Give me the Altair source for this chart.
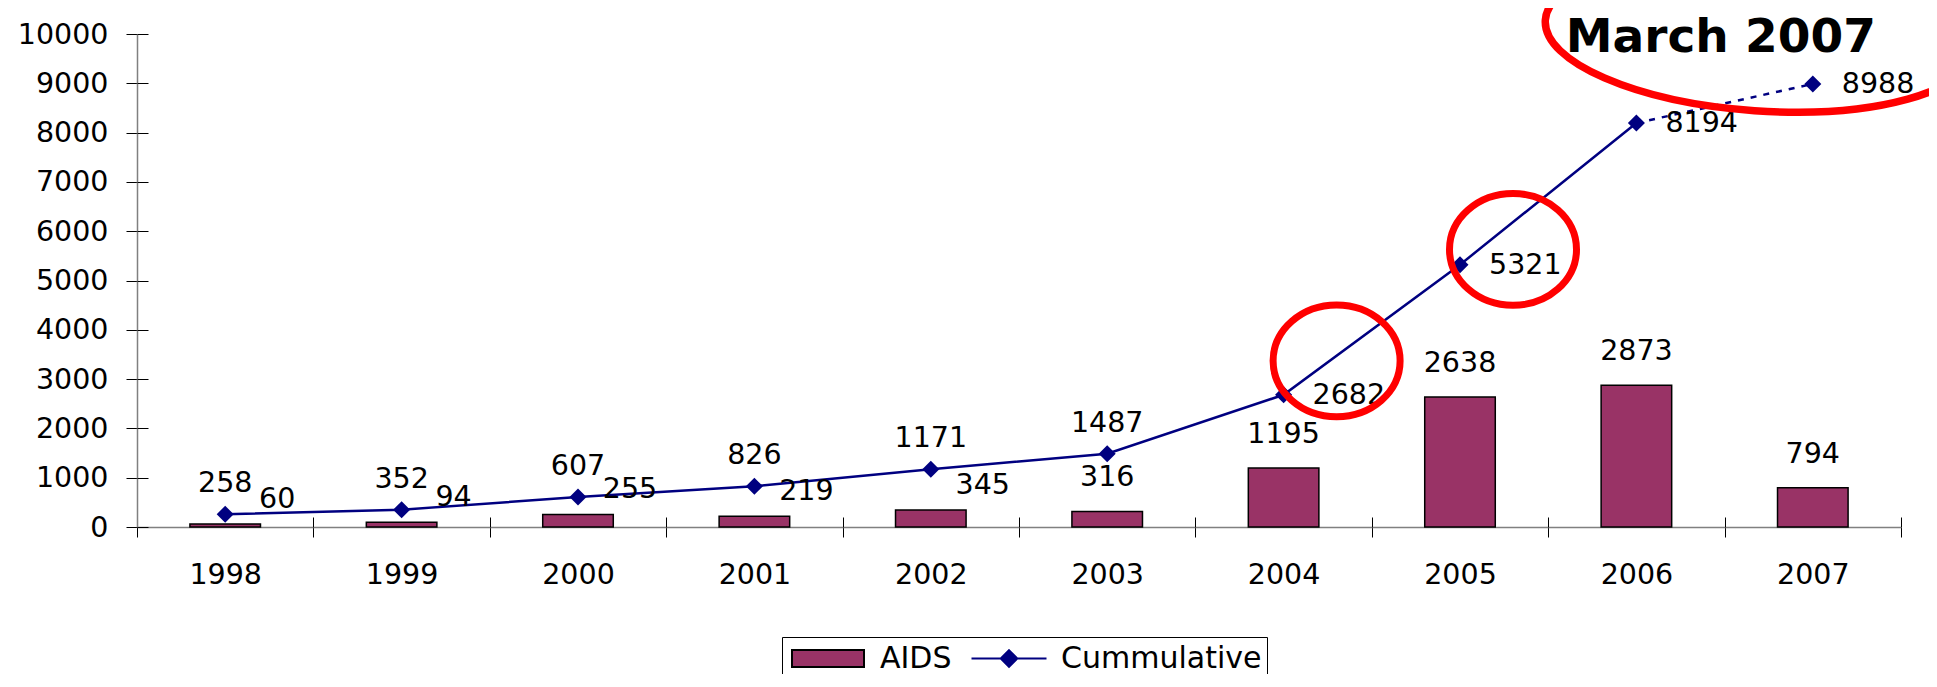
import altair as alt
import pandas as pd

# ---------------- data ----------------
years = [1998, 1999, 2000, 2001, 2002, 2003, 2004, 2005, 2006, 2007]
aids_cases = [60, 94, 255, 219, 345, 316, 1195, 2638, 2873, 794]
cumulative = [258, 352, 607, 826, 1171, 1487, 2682, 5321, 8194, 8988]
series_names = ["AIDS", "Cummulative"]
y_tick_values = [0, 1000, 2000, 3000, 4000, 5000, 6000, 7000, 8000, 9000, 10000]

# annotations (red rings and note), in data units
ring_years = [2004, 2005]
ring_values = [3370, 5630]
note_years = [2007]
note_ring_values = [9980]
note_text_values = [9630]
note_texts = ["March 2007"]

FONT = "DejaVu Sans"
BAR_COLOR = "#993366"
LINE_COLOR = "#000080"
RING_COLOR = "#FF0000"

df = pd.DataFrame({"year": years, "aids": aids_cases, "cumulative": cumulative})
rings = pd.DataFrame({"year": ring_years, "value": ring_values})
note = pd.DataFrame({"year": note_years, "ring": note_ring_values,
                     "tv": note_text_values, "text": note_texts})
legend_df = pd.DataFrame({"series": series_names})


def fmt(v):
    s = f"{v:.4f}".rstrip("0").rstrip(".")
    return "0" if s in ("-0", "") else s


def ellipse_path(rx, ry):
    k = 0.5523
    p = [
        f"M{fmt(rx)},0",
        f"C{fmt(rx)},{fmt(k*ry)} {fmt(k*rx)},{fmt(ry)} 0,{fmt(ry)}",
        f"C{fmt(-k*rx)},{fmt(ry)} {fmt(-rx)},{fmt(k*ry)} {fmt(-rx)},0",
        f"C{fmt(-rx)},{fmt(-k*ry)} {fmt(-k*rx)},{fmt(-ry)} 0,{fmt(-ry)}",
        f"C{fmt(k*rx)},{fmt(-ry)} {fmt(rx)},{fmt(-k*ry)} {fmt(rx)},0 Z",
    ]
    return " ".join(p)


# legend symbol shapes (scaled by sqrt(symbolSize)/2 = 15)
rect_symbol = "M-2.4,-0.567 H2.4 V0.567 H-2.4 Z"
line_symbol = "M-2.5,0 H-0.55 M0.55,0 H2.5 M0,-0.55 L0.55,0 L0,0.55 L-0.55,0 Z"

# ---------------- axes / encodings ----------------
x_axis = alt.Axis(
    title=None, labelAngle=0, tickBand="extent", tickSize=10, tickColor="black",
    tickWidth=1, labelFont=FONT, labelFontSize=28.5, labelColor="black",
    labelPadding=23, domainColor="#808080", domainWidth=1.5,
)
# inner half of the crossing ticks
x_axis_inner = alt.Axis(
    title=None, orient="bottom", offset=-10, labels=False, domain=False,
    tickBand="extent", tickSize=10, tickColor="black", tickWidth=1,
)
y_axis = alt.Axis(
    title=None, values=y_tick_values, format="d", grid=False, labelFont=FONT,
    labelFontSize=28.5, labelColor="black", labelPadding=18, tickSize=11,
    tickColor="black", tickWidth=1, domainColor="#808080", domainWidth=1.5,
)
y_axis_inner = alt.Axis(
    title=None, orient="left", offset=-11, values=y_tick_values, grid=False,
    labels=False, domain=False, tickSize=11, tickColor="black", tickWidth=1,
)

x_scale = alt.Scale(paddingInner=0, paddingOuter=0)
y_scale = alt.Scale(domain=[0, 10000], nice=False)


def x_enc(axis=None):
    return alt.X("year:O", scale=x_scale, axis=axis)


def y_enc(field, axis=None):
    return alt.Y(field, scale=y_scale, axis=axis)


bars = alt.Chart(df).mark_bar(
    color=BAR_COLOR, stroke="black", strokeWidth=1.5, width=alt.RelativeBandSize(0.4)
).encode(x=x_enc(x_axis), y=y_enc("aids:Q", y_axis))

line_solid = alt.Chart(df).transform_filter("datum.year <= 2006").mark_line(
    color=LINE_COLOR, strokeWidth=2.5
).encode(x=x_enc(x_axis_inner), y=y_enc("cumulative:Q", y_axis_inner))

line_dash = alt.Chart(df).transform_filter("datum.year >= 2006").mark_line(
    color=LINE_COLOR, strokeWidth=2.5, strokeDash=[6, 7]
).encode(x=x_enc(), y=y_enc("cumulative:Q"))

points = alt.Chart(df).mark_point(
    shape="diamond", filled=True, color=LINE_COLOR, size=290, opacity=1
).encode(x=x_enc(), y=y_enc("cumulative:Q"))

text_style = dict(font=FONT, fontSize=28.5, color="black", baseline="middle")

aids_right = alt.Chart(df).transform_filter("datum.year <= 2002").mark_text(
    dx=52, dy=-25, **text_style
).encode(x=x_enc(), y=y_enc("aids:Q"), text=alt.Text("aids:Q", format="d"))

aids_above = alt.Chart(df).transform_filter("datum.year >= 2003").mark_text(
    dy=-34, **text_style
).encode(x=x_enc(), y=y_enc("aids:Q"), text=alt.Text("aids:Q", format="d"))

cum_above = alt.Chart(df).transform_filter("datum.year <= 2003").mark_text(
    dy=-31, **text_style
).encode(x=x_enc(), y=y_enc("cumulative:Q"), text=alt.Text("cumulative:Q", format="d"))

cum_right = alt.Chart(df).transform_filter("datum.year >= 2004").mark_text(
    dx=29, align="left", **text_style
).encode(x=x_enc(), y=y_enc("cumulative:Q"), text=alt.Text("cumulative:Q", format="d"))

ring_layer = alt.Chart(rings).mark_point(
    shape=ellipse_path(1, 0.88), size=16129, filled=False, stroke=RING_COLOR,
    strokeWidth=7, xOffset=53, opacity=1
).encode(x=x_enc(), y=y_enc("value:Q"))

note_ring = alt.Chart(note).mark_point(
    shape=ellipse_path(1, 0.353), size=184900, filled=False, stroke=RING_COLOR,
    strokeWidth=7.5, xOffset=-53, angle=4, opacity=1
).encode(x=x_enc(), y=y_enc("ring:Q"))

note_text = alt.Chart(note).mark_text(
    font=FONT, fontSize=47, fontWeight="bold", color="black",
    baseline="alphabetic", align="center", dx=-92
).encode(x=x_enc(), y=y_enc("tv:Q"), text="text:N")

legend = alt.Legend(
    title=None, orient="none", legendX=645, legendY=603, direction="horizontal",
    labelFont=FONT, labelFontSize=30, labelColor="black", labelLimit=400,
    symbolSize=900, symbolStrokeWidth=2, symbolOffset=24.5, labelOffset=36,
    columnPadding=15, padding=5.5, strokeColor="black", fillColor="white",
)

legend_layer = alt.Chart(legend_df).transform_filter("false").mark_point(
    filled=True, opacity=1, strokeWidth=2
).encode(
    fill=alt.Fill("series:N", scale=alt.Scale(domain=series_names, range=[BAR_COLOR, LINE_COLOR]), legend=legend),
    stroke=alt.Stroke("series:N", scale=alt.Scale(domain=series_names, range=["#000000", LINE_COLOR]), legend=legend),
    shape=alt.Shape("series:N", scale=alt.Scale(domain=series_names, range=[rect_symbol, line_symbol]), legend=legend),
)

chart = alt.layer(
    bars, line_solid, line_dash, points, aids_right, aids_above, cum_above,
    cum_right, ring_layer, note_ring, note_text, legend_layer
).resolve_scale(
    x="shared", y="shared"
).resolve_axis(
    x="independent", y="independent"
).properties(
    width=1764, height=493,
    autosize=alt.AutoSizeParams(type="none"),
    padding={"left": 129, "top": 26, "right": 28, "bottom": 147},
    background="white",
).configure_view(stroke=None)

chart.save("out.html", embed_options={"renderer": "svg", "actions": False})
